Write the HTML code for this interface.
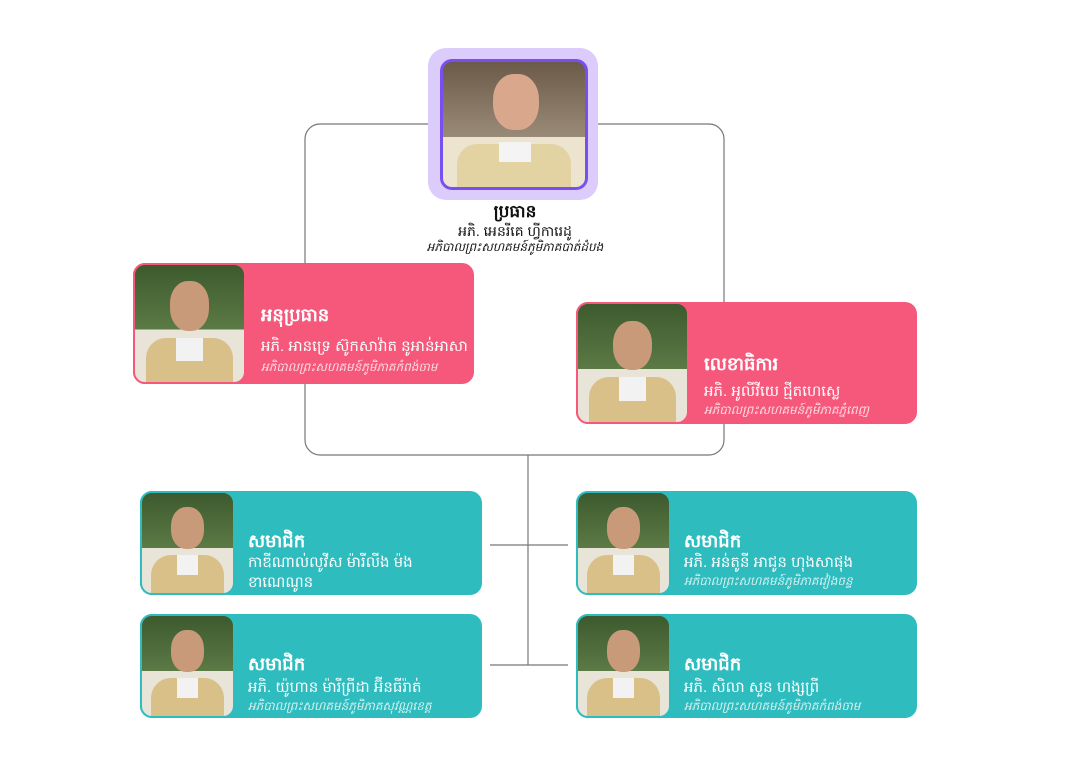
<!DOCTYPE html>
<html><head><meta charset="utf-8"><style>
body{margin:0;width:1080px;height:764px;background:#fff;position:relative;overflow:hidden;font-family:"Liberation Sans","Noto Sans CJK SC",sans-serif}
.a{position:absolute}
.card{position:absolute;border-radius:12px;color:#fff}
.pink{background:#f5587a}
.teal{background:#2ebcbf}
.ph{position:absolute;left:0;top:0;bottom:0;border-radius:12px;overflow:hidden;background:linear-gradient(#3d5a2e,#5b7a45 55%,#e9e4d8 55%)}
.ph .face{position:absolute;left:32%;top:14%;width:36%;height:42%;border-radius:45%;background:#c99a7a}
.ph .robe{position:absolute;left:10%;right:10%;bottom:0;height:38%;background:#d9c089;border-radius:20px 20px 0 0}
.ph .col{position:absolute;left:38%;width:24%;bottom:18%;height:20%;background:#f2f2f2}
.t1{position:absolute;font-weight:bold;font-size:18px}
.t2{position:absolute;font-size:15px}
.t3{position:absolute;font-size:12px;font-style:italic;opacity:.8}
</style></head><body>
<svg class="a" style="left:0;top:0" width="1080" height="764">
<rect x="305" y="124" width="419" height="331" rx="15" fill="none" stroke="#777" stroke-width="1.2"/>
<line x1="528" y1="455" x2="528" y2="665" stroke="#777" stroke-width="1.2"/>
<line x1="490" y1="545" x2="568" y2="545" stroke="#777" stroke-width="1.2"/>
<line x1="490" y1="665" x2="568" y2="665" stroke="#777" stroke-width="1.2"/>
</svg>
<div class="a" style="left:428px;top:48px;width:170px;height:152px;background:#dcccfb;border-radius:18px"></div>
<div class="a" style="left:440px;top:59px;width:142px;height:125px;border:3px solid #7a4ff0;border-radius:12px;overflow:hidden;background:linear-gradient(#6b5a48,#9a8a78 60%,#ece4cf 60%)">
<div class="a" style="left:50px;top:12px;width:46px;height:56px;border-radius:45%;background:#d9a88c"></div>
<div class="a" style="left:14px;top:82px;width:114px;height:44px;background:#e3d3a3;border-radius:20px 20px 0 0"></div>
<div class="a" style="left:56px;top:80px;width:32px;height:20px;background:#f4f4f4"></div>
</div>
<div class="a" style="left:400px;top:202px;width:230px;text-align:center;color:#111">
<div style="font-weight:bold;font-size:17px;line-height:20px">ប្រធាន</div>
<div style="font-size:14px;line-height:18px">អភិ. អេនរីគេ ហ្វីការេដូ</div>
<div style="font-size:12px;font-style:italic;line-height:14px">អភិបាលព្រះសហគមន៍ភូមិភាគបាត់ដំបង</div>
</div>

<div class="card pink" style="left:133px;top:263px;width:341px;height:121px"><div class="ph" style="width:113px;border:2px solid #f5587a;box-sizing:border-box"><div class="face"></div><div class="robe"></div><div class="col"></div></div>
<div class="t1" style="left:128px;top:40px">អនុប្រធាន</div>
<div class="t2" style="left:128px;top:74px">អភិ. អានទ្រេ ស៊ូកសាវ៉ាត នូអាន់អាសា</div>
<div class="t3" style="left:128px;top:96px">អភិបាលព្រះសហគមន៍ភូមិភាគកំពង់ចាម</div></div>

<div class="card pink" style="left:576px;top:302px;width:341px;height:122px"><div class="ph" style="width:113px;border:2px solid #f5587a;box-sizing:border-box"><div class="face"></div><div class="robe"></div><div class="col"></div></div>
<div class="t1" style="left:128px;top:50px">លេខាធិការ</div>
<div class="t2" style="left:128px;top:80px">អភិ. អូលីវីយេ ជ្មីតហេស្លេ</div>
<div class="t3" style="left:128px;top:100px">អភិបាលព្រះសហគមន៍ភូមិភាគភ្នំពេញ</div></div>

<div class="card teal" style="left:140px;top:491px;width:342px;height:104px"><div class="ph" style="width:95px;border:2px solid #2ebcbf;box-sizing:border-box"><div class="face"></div><div class="robe"></div><div class="col"></div></div>
<div class="t1" style="left:108px;top:38px">សមាជិក</div>
<div class="t2" style="left:108px;top:62px;line-height:20px">កាឌីណាល់លូវីស ម៉ារីលីង ម៉ង<br>ខាណេណូន</div></div>

<div class="card teal" style="left:576px;top:491px;width:341px;height:104px"><div class="ph" style="width:95px;border:2px solid #2ebcbf;box-sizing:border-box"><div class="face"></div><div class="robe"></div><div class="col"></div></div>
<div class="t1" style="left:108px;top:38px">សមាជិក</div>
<div class="t2" style="left:108px;top:62px">អភិ. អន់តូនី អាជូន ហុងសាផុង</div>
<div class="t3" style="left:108px;top:82px">អភិបាលព្រះសហគមន៍ភូមិភាគវៀងចន្ទ</div></div>

<div class="card teal" style="left:140px;top:614px;width:342px;height:104px"><div class="ph" style="width:95px;border:2px solid #2ebcbf;box-sizing:border-box"><div class="face"></div><div class="robe"></div><div class="col"></div></div>
<div class="t1" style="left:108px;top:38px">សមាជិក</div>
<div class="t2" style="left:108px;top:64px">អភិ. យ៉ូហាន ម៉ារីព្រីដា អ៊ីនធីរ៉ាត់</div>
<div class="t3" style="left:108px;top:84px">អភិបាលព្រះសហគមន៍ភូមិភាគសុវណ្ណខេត្ត</div></div>

<div class="card teal" style="left:576px;top:614px;width:341px;height:104px"><div class="ph" style="width:95px;border:2px solid #2ebcbf;box-sizing:border-box"><div class="face"></div><div class="robe"></div><div class="col"></div></div>
<div class="t1" style="left:108px;top:38px">សមាជិក</div>
<div class="t2" style="left:108px;top:64px">អភិ. សិលា សួន ហង្សព្រី</div>
<div class="t3" style="left:108px;top:84px">អភិបាលព្រះសហគមន៍ភូមិភាគកំពង់ចាម</div></div>
</body></html>
